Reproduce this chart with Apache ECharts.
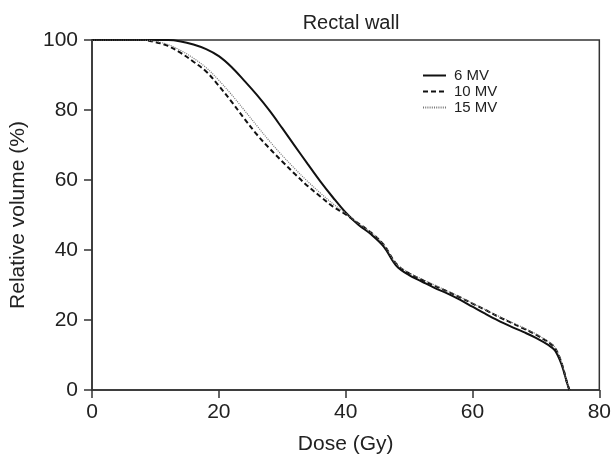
<!DOCTYPE html>
<html>
<head>
<meta charset="utf-8">
<script src="https://cdn.jsdelivr.net/npm/echarts@6/dist/echarts.min.js"></script>
<style>
  html, body { margin: 0; padding: 0; background: #fff; }
  #chart { width: 614px; height: 462px; }
</style>
</head>
<body>
<div id="chart"></div>
<script>
// dose points (Gy) shared by all three curves
var doses = [0, 4, 8, 10, 12, 14, 16, 18, 20, 22, 24, 26, 28, 30, 32, 34, 36, 38, 40, 42, 44, 46, 48, 50,
             52, 54, 56, 58, 60, 62, 64, 66, 68, 70, 72, 73, 74, 75, 75.3];
// relative volume (%)
var mv6 = [100, 100, 100, 100, 100, 99.6, 98.7, 97.4, 95.4, 92.3, 88.4, 84.3, 79.8, 74.8, 69.7, 64.6, 59.6, 55, 50.7,
           47.2, 44.5, 41, 35.5, 32.8, 31, 29.2, 27.6, 25.8, 23.8, 21.8, 19.9, 18.2, 16.6, 14.9, 12.8, 11.3, 7.5, 1.5, 0];
var mv10 = [100, 100, 100, 99.4, 98.3, 96.3, 93.8, 91, 86.9, 82.4, 77.6, 73, 69, 65.3, 61.7, 58.3, 55.3, 52.4, 50.2,
            47.6, 45, 41.5, 36, 33.3, 31.5, 29.8, 28.2, 26.5, 24.7, 22.9, 21, 19.3, 17.6, 15.8, 13.6, 12, 8, 1.5, 0];
var mv15 = [100, 100, 100, 99.6, 98.7, 97, 94.8, 92.1, 88.5, 84.4, 80, 75.5, 71.1, 67, 63.2, 59.6, 56.3, 53.2, 50.5,
            47.6, 45, 41.5, 36, 33.5, 31.7, 30, 28.3, 26.6, 24.8, 23, 21.2, 19.5, 17.8, 16, 13.8, 12.2, 8.2, 1.5, 0];
var seriesNames = ['6 MV', '10 MV', '15 MV'];
var xTicks = [0, 20, 40, 60, 80];
var yTicks = [0, 20, 40, 60, 80, 100];

function pairs(vals) {
    var out = [];
    for (var i = 0; i < doses.length; i++) {
        out.push([doses[i], vals[i]]);
    }
    return out;
}

var chart = echarts.init(document.getElementById('chart'));
var font = 'Liberation Sans, Arial, sans-serif';

var option = {
    animation: false,
    title: {
        text: 'Rectal wall',
        left: 346,
        textAlign: 'center',
        top: 8,
        textStyle: { fontFamily: font, fontSize: 20, fontWeight: 'normal', color: '#222' }
    },
    grid: {
        left: 90, right: 14, top: 40, bottom: 72,
        show: true,
        borderColor: '#333',
        borderWidth: 1.5
    },
    legend: {
        orient: 'vertical',
        left: 417,
        top: 63,
        itemWidth: 23,
        itemHeight: 10,
        itemGap: 1,
        data: seriesNames,
        itemStyle: { opacity: 0 },
        textStyle: { fontFamily: font, fontSize: 15, color: '#222', padding: [0, 0, 0, 3] }
    },
    xAxis: {
        type: 'value',
        min: 0, max: 80, interval: 20,
        name: 'Dose (Gy)',
        nameLocation: 'middle',
        nameGap: 44,
        nameTextStyle: { fontFamily: font, fontSize: 21, color: '#222' },
        axisLine: { lineStyle: { color: '#333', width: 1.5 } },
        axisTick: { show: true, length: 8, inside: false, lineStyle: { color: '#333', width: 1.5 } },
        axisLabel: {
            fontFamily: font, fontSize: 21, color: '#222', margin: 12,
            formatter: function (v) { return xTicks.indexOf(v) >= 0 ? String(v) : ''; }
        },
        splitLine: { show: false }
    },
    yAxis: {
        type: 'value',
        min: 0, max: 100, interval: 20,
        name: 'Relative volume (%)',
        nameLocation: 'middle',
        nameGap: 63,
        nameTextStyle: { fontFamily: font, fontSize: 21, color: '#222' },
        axisLine: { show: true, lineStyle: { color: '#333', width: 1.5 } },
        axisTick: { show: true, length: 8, inside: false, lineStyle: { color: '#333', width: 1.5 } },
        axisLabel: {
            fontFamily: font, fontSize: 21, color: '#222', margin: 14,
            formatter: function (v) { return yTicks.indexOf(v) >= 0 ? String(v) : ''; }
        },
        splitLine: { show: false }
    },
    series: [{
        name: seriesNames[0],
        type: 'line',
        data: pairs(mv6),
        smooth: 0.35,
        symbol: 'none',
        color: '#111',
        lineStyle: { color: '#111', width: 2, type: 'solid' }
    }, {
        name: seriesNames[1],
        type: 'line',
        data: pairs(mv10),
        smooth: 0.35,
        symbol: 'none',
        color: '#111',
        lineStyle: { color: '#111', width: 2, type: [5, 3] }
    }, {
        name: seriesNames[2],
        type: 'line',
        data: pairs(mv15),
        smooth: 0.35,
        symbol: 'none',
        color: '#777',
        lineStyle: { color: '#777', width: 1.2, type: [1, 1.2] }
    }]
};
chart.setOption(option);
</script>
</body>
</html>
